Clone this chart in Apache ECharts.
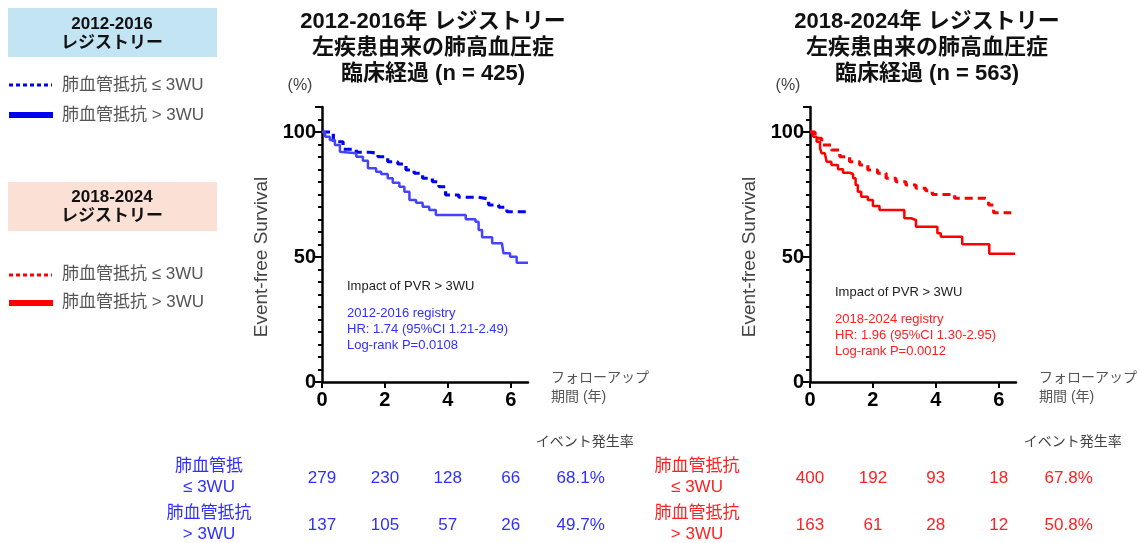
<!DOCTYPE html>
<html>
<head>
<meta charset="utf-8">
<script src="https://cdn.jsdelivr.net/npm/echarts@6/dist/echarts.min.js"></script>
<style>
  html, body { margin: 0; padding: 0; background: #fff; }
  #main { width: 1140px; height: 543px; }
</style>
</head>
<body>
<div id="main"></div>
<script>
// Kaplan-Meier curves (time in years, survival %)
var oldLowT  = [0, 0.36, 0.67, 1.09, 1.51, 1.78, 2.09, 2.41, 2.67, 2.93, 3.2, 3.51, 3.72, 3.93, 4.35, 4.98, 5.3, 5.62, 5.88, 6.55];
var oldLowS  = [100, 96.1, 93.1, 91.9, 91.5, 90.1, 88.1, 87.2, 84.8, 83.5, 81.5, 80.1, 78.1, 74.8, 73.9, 73.2, 70.8, 69.9, 68.1, 68.1];
var oldHighT = [0, 0.1, 0.25, 0.41, 0.57, 0.62, 1.09, 1.3, 1.46, 1.72, 1.88, 2.09, 2.25, 2.46, 2.62, 2.78, 2.99, 3.2, 3.41, 3.62, 4.57, 4.88, 4.98, 5.09, 5.41, 5.72, 5.77, 5.98, 6.19, 6.55];
var oldHighS = [100, 98.1, 96.8, 94.8, 92.1, 91.5, 90.1, 88.5, 85.5, 84.1, 83.2, 81.5, 79.7, 78.1, 76.1, 72.8, 71.7, 70.1, 68.8, 66.8, 65.1, 64.1, 60.8, 57.9, 55.5, 54.8, 51.5, 50.1, 47.7, 47.7];

var newLowT  = [0, 0.16, 0.37, 0.68, 0.95, 1.26, 1.58, 1.84, 2.15, 2.42, 2.73, 3.05, 3.37, 3.68, 3.89, 4.6, 5.57, 5.68, 5.84, 6.4];
var newLowS  = [100, 97.5, 94.8, 92.8, 90.1, 88.1, 86.8, 84.8, 83.5, 81.5, 80.1, 78.8, 77.5, 76.5, 75.0, 73.5, 72.8, 70.8, 67.7, 67.7];
var newHighT = [0, 0.1, 0.21, 0.32, 0.37, 0.47, 0.53, 0.68, 0.89, 1.05, 1.26, 1.37, 1.45, 1.52, 1.63, 1.84, 2.0, 2.21, 2.89, 3.0, 3.21, 3.37, 4.05, 4.16, 4.84, 5.7, 6.52];
var newHighS = [100, 98.1, 96.1, 93.5, 91.5, 90.8, 88.1, 86.8, 85.1, 83.7, 83.2, 81.5, 78.8, 76.1, 74.1, 72.8, 70.4, 68.8, 68.8, 65.5, 64.8, 62.1, 59.5, 58.1, 55.1, 51.3, 51.3];

// numbers at risk (year 0, 2, 4, 6) and event rates
var riskYears    = [0, 2, 4, 6];
var oldLowRisk   = [279, 230, 128, 66];
var oldHighRisk  = [137, 105, 57, 26];
var newLowRisk   = [400, 192, 93, 18];
var newHighRisk  = [163, 61, 28, 12];
var oldRates     = ['68.1%', '49.7%'];
var newRates     = ['67.8%', '50.8%'];

var titlesOld = ['2012-2016年 レジストリー', '左疾患由来の肺高血圧症', '臨床経過 (n = 425)'];
var titlesNew = ['2018-2024年 レジストリー', '左疾患由来の肺高血圧症', '臨床経過 (n = 563)'];
var notesOld  = ['2012-2016 registry', 'HR: 1.74 (95%CI 1.21-2.49)', 'Log-rank P=0.0108'];
var notesNew  = ['2018-2024 registry', 'HR: 1.96 (95%CI 1.30-2.95)', 'Log-rank P=0.0012'];

var BLUE = '#0000f0', BLUE2 = '#4444ff', RED = '#ff0000';
var TBLUE = '#2f2fff', TRED = '#ff2222';
var FONT = '"Liberation Sans", "Noto Sans CJK JP", sans-serif';

function pairs(t, s) {
    var out = [];
    for (var i = 0; i < t.length; i++) out.push([t[i], s[i]]);
    return out;
}

function xAxisOf(idx) {
    return {
        type: 'value', gridIndex: idx, min: 0, max: 6.55, interval: 2,
        axisLine: { show: true, onZero: false, lineStyle: { color: '#000', width: 2.5 } },
        axisTick: { show: true, length: 6, lineStyle: { color: '#000', width: 2 } },
        splitLine: { show: false },
        axisLabel: { showMaxLabel: false, margin: 8, color: '#000', fontWeight: 'bold', fontSize: 20, fontFamily: FONT }
    };
}

function yAxisOf(idx) {
    return {
        type: 'value', gridIndex: idx, min: 0, max: 110, interval: 50,
        axisLine: { show: true, lineStyle: { color: '#000', width: 2.5 } },
        axisTick: { show: true, length: 7, lineStyle: { color: '#000', width: 2 } },
        minorTick: { show: true, splitNumber: 10, length: 4, lineStyle: { color: '#000', width: 2 } },
        splitLine: { show: false },
        minorSplitLine: { show: false },
        axisLabel: { showMaxLabel: false, margin: 6, color: '#000', fontWeight: 'bold', fontSize: 20, fontFamily: FONT }
    };
}

function kmSeries(idx, t, s, color, width, dashed) {
    return {
        type: 'line', xAxisIndex: idx, yAxisIndex: idx, step: 'end', symbol: 'none',
        silent: true, animation: false,
        lineStyle: { color: color, width: width, type: dashed ? [8, 5] : 'solid' },
        data: pairs(t, s)
    };
}

var myChart = echarts.init(document.getElementById('main'));

var option = {
    animation: false,
    grid: [
        { left: 322, top: 107, width: 206, height: 275 },
        { left: 810, top: 107, width: 206, height: 275 }
    ],
    xAxis: [xAxisOf(0), xAxisOf(1)],
    yAxis: [yAxisOf(0), yAxisOf(1)],
    series: [
        kmSeries(0, oldLowT, oldLowS, BLUE, 3.2, true),
        kmSeries(0, oldHighT, oldHighS, BLUE2, 2.5, false),
        kmSeries(1, newLowT, newLowS, RED, 3.2, true),
        kmSeries(1, newHighT, newHighS, RED, 2.5, false)
    ]
};
myChart.setOption(option);

function txt(text, x, y, font, color, align) {
    return {
        type: 'text', silent: true,
        style: { text: text, x: x, y: y, font: font, fill: color, align: align || 'left', verticalAlign: 'middle' }
    };
}
function seg(x1, y1, x2, y2, color, w, dash) {
    return {
        type: 'line', silent: true,
        shape: { x1: x1, y1: y1, x2: x2, y2: y2 },
        style: { stroke: color, lineWidth: w, lineDash: dash || null }
    };
}

var g = [];

// left legend blocks
g.push({ type: 'rect', silent: true, shape: { x: 8, y: 8, width: 209, height: 49 }, style: { fill: '#c2e4f3' } });
g.push(txt('2012-2016', 112, 24, 'bold 17px ' + FONT, '#111', 'center'));
g.push(txt('レジストリー', 112, 43, 'bold 17px ' + FONT, '#111', 'center'));
g.push(seg(9, 85, 52, 85, BLUE, 3, [4, 3]));
g.push(txt('肺血管抵抗 ≤ 3WU', 62, 85, '17px ' + FONT, '#555'));
g.push(seg(9, 115, 53, 115, BLUE, 6));
g.push(txt('肺血管抵抗 > 3WU', 62, 115, '17px ' + FONT, '#555'));

g.push({ type: 'rect', silent: true, shape: { x: 8, y: 182, width: 209, height: 49 }, style: { fill: '#fbe1d5' } });
g.push(txt('2018-2024', 112, 197, 'bold 17px ' + FONT, '#111', 'center'));
g.push(txt('レジストリー', 112, 216, 'bold 17px ' + FONT, '#111', 'center'));
g.push(seg(9, 275, 52, 275, RED, 3, [4, 3]));
g.push(txt('肺血管抵抗 ≤ 3WU', 62, 274, '17px ' + FONT, '#555'));
g.push(seg(9, 303, 53, 303, RED, 6));
g.push(txt('肺血管抵抗 > 3WU', 62, 302, '17px ' + FONT, '#555'));

function panel(idx, titles, titleShift, notes, noteColor, lowRisk, highRisk, rates, lowLabel, tColor) {
    var x0 = myChart.convertToPixel({ xAxisIndex: idx }, 0);
    var cx = x0 + 111 + titleShift;
    for (var i = 0; i < titles.length; i++) {
        g.push(txt(titles[i], cx, 22 + i * 26, 'bold 22px ' + FONT, '#111', 'center'));
    }
    g.push(txt('(%)', x0 - 22, 86, '16px ' + FONT, '#444', 'center'));
    g.push({
        type: 'text', silent: true, x: x0 - 60, y: 257, rotation: Math.PI / 2,
        style: { text: 'Event-free Survival', x: 0, y: 0, font: '19px ' + FONT, fill: '#444', align: 'center', verticalAlign: 'middle' }
    });
    g.push(txt('フォローアップ', x0 + 229, 378, '14px ' + FONT, '#555'));
    g.push(txt('期間 (年)', x0 + 229, 397, '14px ' + FONT, '#555'));

    var ny = idx === 0 ? 286 : 292;
    g.push(txt('Impact of PVR > 3WU', x0 + 25, ny, '13px ' + FONT, '#222'));
    for (var j = 0; j < notes.length; j++) {
        g.push(txt(notes[j], x0 + 25, ny + 27 + j * 16, '13px ' + FONT, noteColor));
    }

    // at-risk table
    var x6 = myChart.convertToPixel({ xAxisIndex: idx }, 6);
    g.push(txt('イベント発生率', x6 + 25, 442, '14px ' + FONT, '#444'));
    var labX = x0 - 113;
    g.push(txt(lowLabel, labX, 466, '17px ' + FONT, tColor, 'center'));
    g.push(txt('≤ 3WU', labX, 487, '17px ' + FONT, tColor, 'center'));
    g.push(txt('肺血管抵抗', labX, 513, '17px ' + FONT, tColor, 'center'));
    g.push(txt('> 3WU', labX, 534, '17px ' + FONT, tColor, 'center'));
    for (var k = 0; k < riskYears.length; k++) {
        var px = myChart.convertToPixel({ xAxisIndex: idx }, riskYears[k]);
        g.push(txt(String(lowRisk[k]), px, 478, '17px ' + FONT, tColor, 'center'));
        g.push(txt(String(highRisk[k]), px, 525, '17px ' + FONT, tColor, 'center'));
    }
    g.push(txt(rates[0], x6 + 70, 478, '17px ' + FONT, tColor, 'center'));
    g.push(txt(rates[1], x6 + 70, 525, '17px ' + FONT, tColor, 'center'));
}

panel(0, titlesOld, 0, notesOld, '#3030ff', oldLowRisk, oldHighRisk, oldRates, '肺血管抵', TBLUE);
panel(1, titlesNew, 6, notesNew, '#ff2020', newLowRisk, newHighRisk, newRates, '肺血管抵抗', TRED);

myChart.setOption({ graphic: g });
</script>
</body>
</html>
